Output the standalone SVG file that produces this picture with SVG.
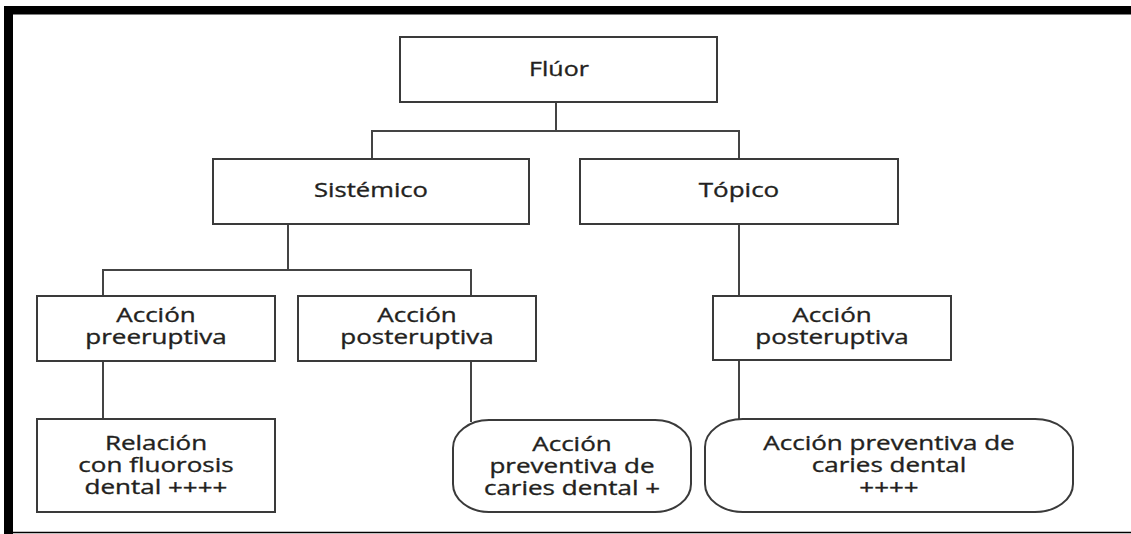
<svg xmlns="http://www.w3.org/2000/svg" width="1131" height="534" viewBox="0 0 1131 534">
<style>
.box{fill:#ffffff;stroke:#3a3a3a;stroke-width:2}
.con{fill:none;stroke:#444444;stroke-width:2}
.t{font-family:"Open Sans","DejaVu Sans",sans-serif;font-size:20px;fill:#231f20;stroke:#231f20;stroke-width:0.35;text-anchor:middle}
</style>
<rect x="0" y="0" width="1131" height="534" fill="#ffffff"/>
<g id="frame">
<rect x="4" y="6" width="1127" height="8.5" fill="#000000"/>
<rect x="4" y="6" width="9" height="528" fill="#000000"/>
<line x1="4" y1="532.5" x2="1131" y2="532.5" stroke="#000000" stroke-width="1.6"/>
</g>
<g id="connectors">
<path class="con" d="M556 102 V131 M372 159 V131 H739 V159"/>
<path class="con" d="M288 224 V270 M103 296 V270 H471 V296"/>
<path class="con" d="M739 224 V296"/>
<path class="con" d="M103 361 V419"/>
<path class="con" d="M471 361 V422"/>
<path class="con" d="M739 360 V420"/>
</g>
<g id="fluor">
<rect class="box" x="400" y="37" width="317" height="65"/>
<text class="t" transform="translate(559 0) scale(1.25 1)" x="0" y="76">Flúor</text>
</g>
<g id="sistemico">
<rect class="box" x="213" y="159" width="316" height="65"/>
<text class="t" transform="translate(371 0) scale(1.28 1)" x="0" y="197">Sistémico</text>
</g>
<g id="topico">
<rect class="box" x="580" y="159" width="318" height="65"/>
<text class="t" transform="translate(739 0) scale(1.3 1)" x="0" y="197">Tópico</text>
</g>
<g id="accion-preeruptiva">
<rect class="box" x="37" y="296" width="238" height="65"/>
<text class="t" transform="translate(156 0) scale(1.3 1)" x="0"><tspan x="0" y="322">Acción</tspan><tspan x="0" y="344">preeruptiva</tspan></text>
</g>
<g id="accion-posteruptiva-sist">
<rect class="box" x="298" y="296" width="238" height="65"/>
<text class="t" transform="translate(417 0) scale(1.3 1)" x="0"><tspan x="0" y="322">Acción</tspan><tspan x="0" y="344">posteruptiva</tspan></text>
</g>
<g id="accion-posteruptiva-top">
<rect class="box" x="713" y="296" width="238" height="64"/>
<text class="t" transform="translate(832 0) scale(1.3 1)" x="0"><tspan x="0" y="322">Acción</tspan><tspan x="0" y="344">posteruptiva</tspan></text>
</g>
<g id="relacion-fluorosis">
<rect class="box" x="37" y="419" width="238" height="93"/>
<text class="t" transform="translate(156 0) scale(1.3 1)" x="0"><tspan x="0" y="450">Relación</tspan><tspan x="0" y="472">con fluorosis</tspan><tspan x="0" y="494">dental ++++</tspan></text>
</g>
<g id="preventiva-sist">
<rect class="box" x="453" y="420" width="238" height="92" rx="36" ry="28"/>
<text class="t" transform="translate(572 0) scale(1.3 1)" x="0"><tspan x="0" y="451">Acción</tspan><tspan x="0" y="473">preventiva de</tspan><tspan x="0" y="495">caries dental +</tspan></text>
</g>
<g id="preventiva-top">
<rect class="box" x="705" y="419" width="368" height="93" rx="38" ry="28"/>
<text class="t" transform="translate(889 0) scale(1.3 1)" x="0"><tspan x="0" y="450">Acción preventiva de</tspan><tspan x="0" y="472">caries dental</tspan><tspan x="0" y="494">++++</tspan></text>
</g>
</svg>
